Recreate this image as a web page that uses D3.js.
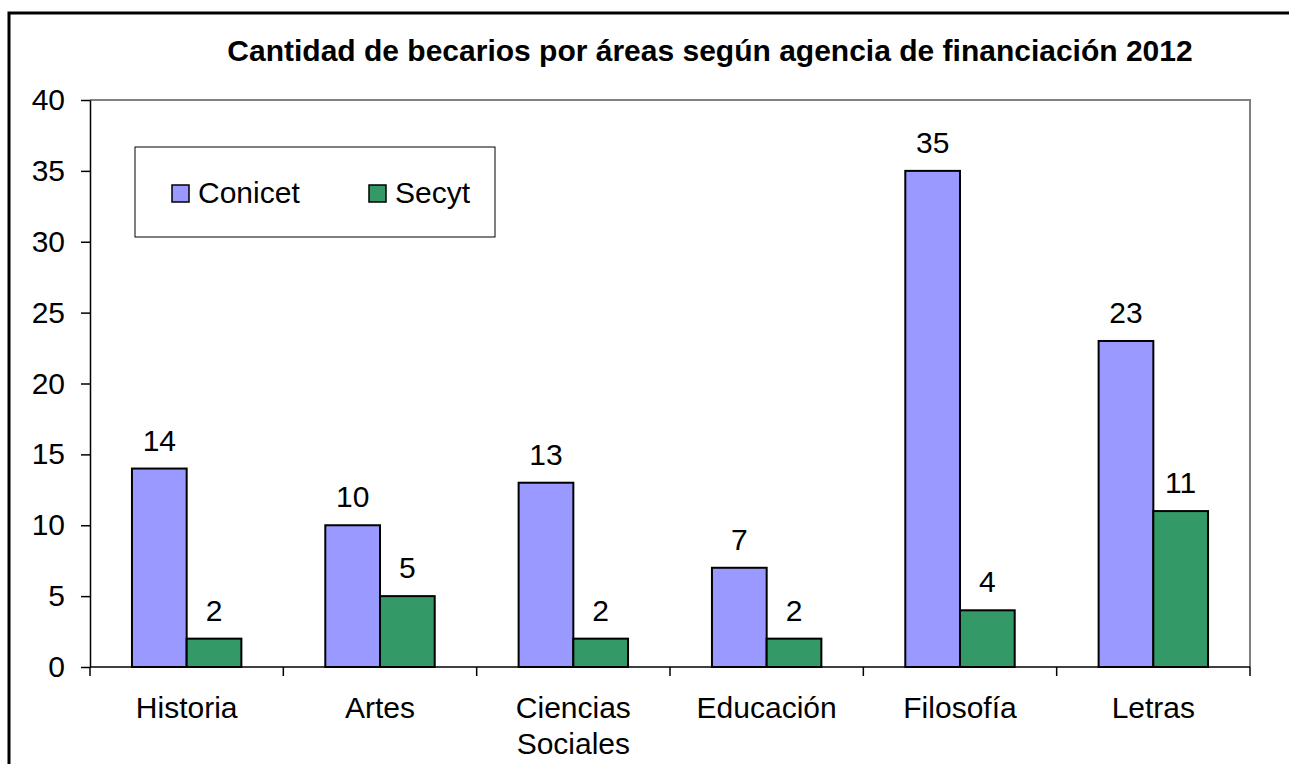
<!DOCTYPE html>
<meta charset="utf-8">
<style>
  body { margin: 0; background: #fff; }
  text { font-family: "Liberation Sans", Arial, sans-serif; fill: #000; }
</style>
<body>
<script src="https://cdn.jsdelivr.net/npm/d3@7"></script>
<script>
  var categories = ["Historia", "Artes", "Ciencias Sociales", "Educación", "Filosofía", "Letras"];
  var seriesNames = ["Conicet", "Secyt"];
  var conicet = [14, 10, 13, 7, 35, 23];
  var secyt = [2, 5, 2, 2, 4, 11];
  var yTicks = [0, 5, 10, 15, 20, 25, 30, 35, 40];
  var colors = ["#9999ff", "#339966"];
  var title = "Cantidad de becarios por áreas según agencia de financiación 2012";

  var width = 1289, height = 764;
  var plot = {left: 90, top: 100, right: 1250, bottom: 667};
  var fontSize = 30;

  var svg = d3.select("body").append("svg")
    .attr("width", width)
    .attr("height", height);

  // outer chart frame (runs off the bottom and right of the picture)
  svg.append("rect")
    .attr("x", 9).attr("y", 13)
    .attr("width", 1300).attr("height", 800)
    .attr("fill", "#fff")
    .attr("stroke", "#000")
    .attr("stroke-width", 3);

  svg.append("text")
    .attr("x", 710).attr("y", 61)
    .attr("text-anchor", "middle")
    .style("font-weight", "bold")
    .style("font-size", "30px")
    .text(title);

  var x = d3.scaleBand()
    .domain(categories)
    .range([plot.left, plot.right]);

  var x1 = d3.scaleBand()
    .domain(seriesNames)
    .range([0, x.bandwidth()])
    .paddingOuter(0.767);

  var y = d3.scaleLinear()
    .domain([0, 40])
    .range([plot.bottom, plot.top]);

  // plot area border (gray top + right)
  svg.append("path")
    .attr("d", "M" + plot.left + "," + plot.top + "H" + plot.right + "V" + plot.bottom)
    .attr("fill", "none")
    .attr("stroke", "#808080")
    .attr("stroke-width", 2);

  var rows = categories.map(function(c, i) {
    return {cat: c, values: [conicet[i], secyt[i]]};
  });

  var groups = svg.selectAll("g.cat")
    .data(rows)
    .join("g")
    .attr("class", "cat")
    .attr("transform", function(d) { return "translate(" + x(d.cat) + ",0)"; });

  groups.selectAll("rect")
    .data(function(d) { return d.values.map(function(v, j) { return {s: seriesNames[j], v: v, j: j}; }); })
    .join("rect")
    .attr("x", function(d) { return x1(d.s); })
    .attr("y", function(d) { return y(d.v); })
    .attr("width", x1.bandwidth())
    .attr("height", function(d) { return y(0) - y(d.v); })
    .attr("fill", function(d) { return colors[d.j]; })
    .attr("stroke", "#000")
    .attr("stroke-width", 2);

  groups.selectAll("text.val")
    .data(function(d) { return d.values.map(function(v, j) { return {s: seriesNames[j], v: v}; }); })
    .join("text")
    .attr("class", "val")
    .attr("x", function(d) { return x1(d.s) + x1.bandwidth() / 2; })
    .attr("y", function(d) { return y(d.v) - 18; })
    .attr("text-anchor", "middle")
    .style("font-size", fontSize + "px")
    .text(function(d) { return d.v; });

  // y axis
  var yAxis = svg.append("g")
    .attr("transform", "translate(" + plot.left + ",0)")
    .call(d3.axisLeft(y).tickValues(yTicks).tickSize(9).tickPadding(16).tickSizeOuter(0));
  yAxis.select(".domain").attr("stroke", "#000").attr("stroke-width", 1.5);
  yAxis.selectAll(".tick line").attr("stroke", "#000").attr("stroke-width", 1.5);
  yAxis.selectAll("text")
    .style("font-size", fontSize + "px")
    .attr("font-family", null);

  // x axis line and category dividers
  svg.append("line")
    .attr("x1", plot.left).attr("x2", plot.right)
    .attr("y1", y(0)).attr("y2", y(0))
    .attr("stroke", "#000").attr("stroke-width", 1.5);

  var edges = categories.map(function(c) { return x(c); }).concat([plot.right]);
  svg.selectAll("line.xtick")
    .data(edges)
    .join("line")
    .attr("class", "xtick")
    .attr("x1", function(d) { return d; }).attr("x2", function(d) { return d; })
    .attr("y1", y(0)).attr("y2", y(0) + 9)
    .attr("stroke", "#000").attr("stroke-width", 1.5);

  svg.selectAll("text.cat")
    .data(categories)
    .join("text")
    .attr("class", "cat")
    .attr("text-anchor", "middle")
    .style("font-size", fontSize + "px")
    .each(function(d) {
      var t = d3.select(this);
      d.split(" ").forEach(function(w, k) {
        t.append("tspan")
          .attr("x", x(d) + x.bandwidth() / 2)
          .attr("y", 718 + k * 36)
          .text(w);
      });
    });

  // legend
  var legend = svg.append("g");
  legend.append("rect")
    .attr("x", 135).attr("y", 147)
    .attr("width", 360).attr("height", 90)
    .attr("fill", "#fff")
    .attr("stroke", "#000")
    .attr("stroke-width", 1);
  var legendX = [172, 369];
  seriesNames.forEach(function(s, i) {
    legend.append("rect")
      .attr("x", legendX[i]).attr("y", 185)
      .attr("width", 17).attr("height", 17)
      .attr("fill", colors[i])
      .attr("stroke", "#000")
      .attr("stroke-width", 1.5);
    legend.append("text")
      .attr("x", legendX[i] + 26).attr("y", 203)
      .style("font-size", fontSize + "px")
      .text(s);
  });
</script>
</body>
